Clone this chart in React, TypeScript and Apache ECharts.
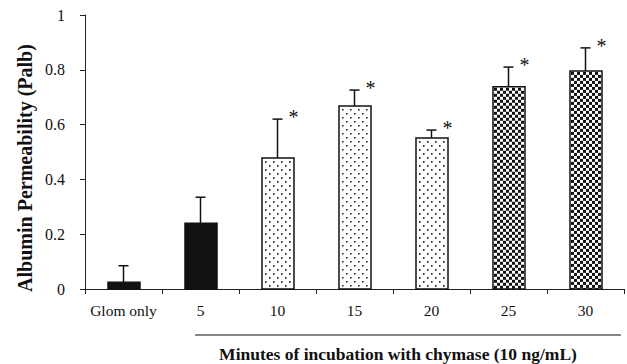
import React, { useEffect, useRef } from "react";
import * as echarts from "echarts";

const categories = ["Glom only", "5", "10", "15", "20", "25", "30"];
const means = [0.025, 0.24, 0.478, 0.668, 0.551, 0.738, 0.796];
const errors = [0.06, 0.095, 0.142, 0.058, 0.029, 0.072, 0.084];
const patterns = ["solid", "solid", "dots", "dots", "dots", "checker", "checker"];
const significant = [false, false, true, true, true, true, true];
const yTicks = [0, 0.2, 0.4, 0.6, 0.8, 1];

const SERIF = "'Liberation Serif', 'Times New Roman', serif";

export default function App() {
  const ref = useRef<HTMLDivElement>(null);
  useEffect(() => {
    if (!ref.current) return;
    const chart = echarts.init(ref.current, undefined, { renderer: "svg" });
    const data = categories.map((_, i) => [i, means[i], errors[i]]);

    const renderItem = (params: any, api: any) => {
      const i = api.value(0);
      const v = api.value(1);
      const sd = api.value(2);
      const base = api.coord([i, 0]);
      const top = api.coord([i, v]);
      const errTop = api.coord([i, v + sd]);
      const cx = base[0];
      const y0 = base[1];
      const y1 = top[1];
      const ye = errTop[1];
      const band = api.size([1, 0])[0];
      const w = Math.round(band * 0.42);
      const x0 = Math.round(cx - w / 2);
      const children: any[] = [];
      const pat = patterns[i];
      children.push({
        type: "rect",
        shape: { x: x0, y: y1, width: w, height: y0 - y1 },
        style: { fill: pat === "solid" ? "#111" : "#fff" },
      });
      if (pat === "dots") {
        let r = 0;
        for (let y = y1 + 3; y < y0 - 2; y += 4, r++) {
          const off = (r % 2) * 4 + 3;
          for (let x = x0 + off; x < x0 + w - 2; x += 8) {
            children.push({
              type: "rect",
              shape: { x: x, y: y, width: 1.6, height: 1.6 },
              style: { fill: "#222" },
            });
          }
        }
      } else if (pat === "checker") {
        const cell = 3;
        let r = 0;
        for (let y = y1 + 1; y < y0 - 0.5; y += cell, r++) {
          let c = 0;
          for (let x = x0 + 1; x < x0 + w - 0.5; x += cell, c++) {
            if ((r + c) % 2 === 0) {
              children.push({
                type: "rect",
                shape: {
                  x: x,
                  y: y,
                  width: Math.min(cell, x0 + w - 1 - x),
                  height: Math.min(cell, y0 - y),
                },
                style: { fill: "#111" },
              });
            }
          }
        }
      }
      children.push({
        type: "rect",
        shape: { x: x0, y: y1, width: w, height: y0 - y1 },
        style: { fill: "none", stroke: "#111", lineWidth: 1.5 },
      });
      children.push({
        type: "line",
        shape: { x1: cx, y1: y1, x2: cx, y2: ye },
        style: { stroke: "#111", lineWidth: 1.5 },
      });
      children.push({
        type: "line",
        shape: { x1: cx - 5, y1: ye, x2: cx + 5, y2: ye },
        style: { stroke: "#111", lineWidth: 1.5 },
      });
      if (significant[i]) {
        children.push({
          type: "text",
          style: {
            text: "*",
            x: cx + 16,
            y: ye - 2,
            align: "center",
            verticalAlign: "middle",
            font: `20px ${SERIF}`,
            fill: "#111",
          },
        });
      }
      return { type: "group", children };
    };

    chart.setOption({
      animation: false,
      grid: { left: 85, right: 3, top: 15, bottom: 75 },
      xAxis: {
        type: "category",
        data: categories,
        boundaryGap: true,
        axisLine: { lineStyle: { color: "#222", width: 1 } },
        axisTick: { show: true, length: 5, interval: 0, lineStyle: { color: "#222" } },
        axisLabel: {
          interval: 0,
          margin: 13,
          color: "#111",
          fontFamily: SERIF,
          fontSize: 15.5,
        },
      },
      yAxis: {
        type: "value",
        min: 0,
        max: 1,
        interval: 0.2,
        splitLine: { show: false },
        axisLine: { show: true, lineStyle: { color: "#222", width: 1 } },
        axisTick: { show: true, length: 5, lineStyle: { color: "#222" } },
        axisLabel: {
          margin: 20,
          color: "#111",
          fontFamily: SERIF,
          fontSize: 16,
          formatter: (val: number) => {
            const t = yTicks.find((k) => Math.abs(k - val) < 1e-9);
            return String(t !== undefined ? t : val);
          },
        },
      },
      series: [
        {
          type: "custom",
          renderItem,
          data,
          silent: true,
          clip: false,
        },
      ],
      graphic: [
        {
          type: "text",
          x: 25,
          y: 168,
          rotation: Math.PI / 2,
          style: {
            text: "Albumin Permeability (Palb)",
            align: "center",
            verticalAlign: "middle",
            font: `bold 20px ${SERIF}`,
            fill: "#111",
          },
        },
        {
          type: "line",
          shape: { x1: 195, y1: 335, x2: 621, y2: 335 },
          style: { stroke: "#111", lineWidth: 1 },
        },
        {
          type: "text",
          x: 398,
          y: 354,
          style: {
            text: "Minutes of incubation with chymase (10 ng/mL)",
            align: "center",
            verticalAlign: "middle",
            font: `bold 17.5px ${SERIF}`,
            fill: "#111",
          },
        },
      ],
    });
    return () => chart.dispose();
  }, []);
  return (
    <div
      ref={ref}
      style={{ position: "absolute", left: 0, top: 0, width: 627, height: 364 }}
    />
  );
}
